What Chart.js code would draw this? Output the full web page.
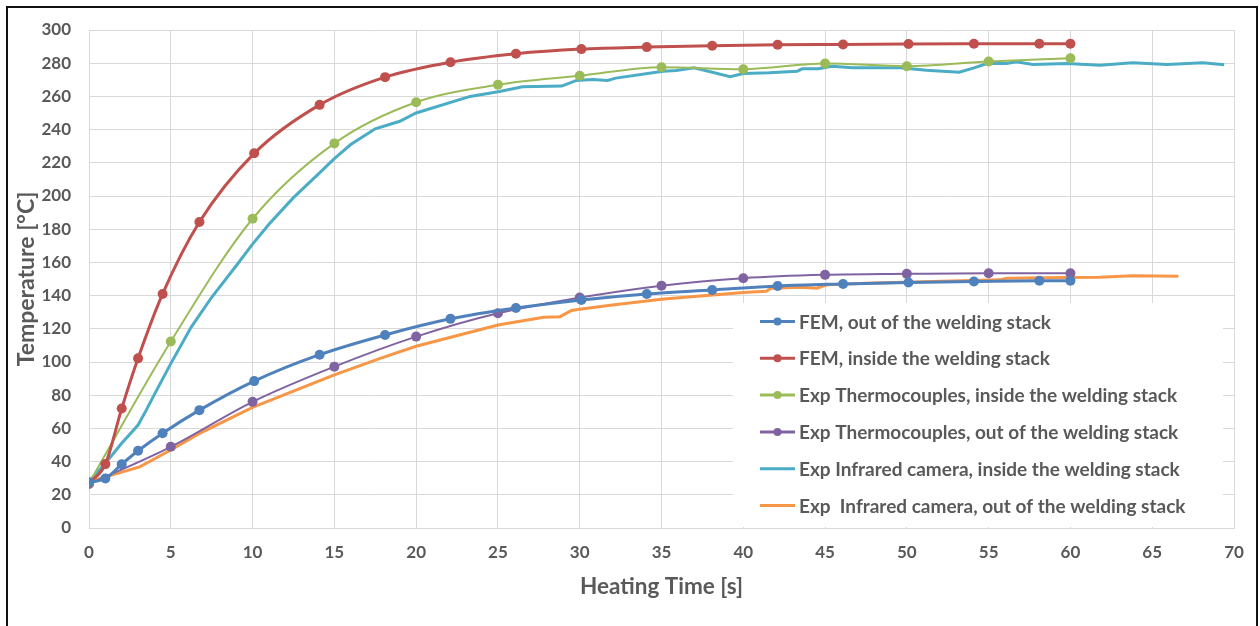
<!DOCTYPE html>
<html>
<head>
<meta charset="utf-8">
<script src="https://cdn.jsdelivr.net/npm/chart.js@4.4.1/dist/chart.umd.min.js"></script>
<style>
    html, body { margin: 0; padding: 0; background: #fff; }
    #wrap { position: relative; width: 1260px; height: 626px; overflow: hidden; }
    #frame { position: absolute; left: 6px; top: 6px; width: 1248px; height: 640px; border: 2px solid #111; border-bottom: none; pointer-events: none; }
</style>
</head>
<body>
<div id="wrap">
    <canvas id="myChart" width="1260" height="626"></canvas>
    <div id="frame"></div>
</div>
<script>
/* temperature during heating: FEM results against thermocouples and infrared camera */

// FEM time steps and results
const femTime = [0, 1, 2, 3, 4.5, 6.75, 10.1, 14.1, 18.1, 22.1, 26.1, 30.1, 34.1, 38.1, 42.1, 46.1, 50.1, 54.1, 58.1, 60];
const femOut = [27.5, 29.8, 38.4, 46.5, 57.1, 71, 88.5, 104.4, 116.3, 126, 132.5, 137.4, 141, 143.4, 145.8, 147, 147.9, 148.5, 148.9, 149];
const femIn = [27, 38.5, 72, 102.2, 141, 184.3, 225.7, 254.9, 271.6, 280.6, 285.7, 288.5, 289.7, 290.5, 291.1, 291.3, 291.6, 291.7, 291.7, 291.7];

// thermocouple readings
const tcTime = [0, 5, 10, 15, 20, 25, 30, 35, 40, 45, 50, 55, 60];
const tcIn = [27, 112.3, 186.3, 231.7, 256.5, 267, 272.4, 277.6, 276.4, 279.8, 278.2, 281, 283];
const tcOut = [26.5, 48.9, 76, 97.2, 115.3, 129.4, 138.8, 146, 150.5, 152.5, 153.1, 153.5, 153.4];

// infrared camera, inside
const irInTime = [0, 1, 2, 3, 3.5, 4, 5, 6.25, 7.5, 9, 10, 11, 12.5, 14, 15, 16, 17.5, 19, 20, 23.3, 25.1, 26.5, 28.9, 29.8, 30.8, 31.7, 32.2, 35.1, 35.9, 37, 39.2, 40, 41.6, 43.3, 43.6, 44.6, 45.4, 46.7, 49.6, 51.2, 53.2, 54.1, 54.9, 56.1, 56.7, 57.7, 59.8, 61.8, 63.8, 65.9, 68.1, 69.4];
const irIn = [28, 39, 51, 62, 71, 80.5, 99, 121, 139, 158, 171, 183, 199, 213, 222.5, 231, 240.5, 245, 250, 260, 263, 265.8, 266.2, 269.6, 270.2, 269.6, 271, 275.2, 275.6, 277.2, 271.8, 273.8, 274.2, 275.2, 276.6, 276.6, 278.2, 277.2, 277.2, 275.8, 274.6, 277.2, 279.8, 279.8, 280.8, 279.2, 279.8, 278.8, 280.2, 279.2, 280.2, 279];

// infrared camera, outside
const irOutTime = [0, 1, 3.1, 5, 6.76, 10, 15, 17.8, 20, 25, 27.8, 28.8, 29.5, 30, 32, 35, 35.7, 40, 41.4, 41.7, 43.5, 44.5, 45.1, 47.5, 51.6, 55.7, 56.1, 59.8, 61.8, 63.8, 66.6];
const irOut = [27.8, 30.8, 36.8, 47, 57, 72.7, 92.2, 102.2, 109.5, 122.3, 127, 127.3, 131, 131.8, 134.4, 137.8, 138.4, 141.8, 142.6, 144.5, 145, 144.5, 146.5, 147.5, 148.5, 149.5, 150.5, 150.9, 151.1, 151.9, 151.7];

const xTicks = [0, 70, 5];
const yTicks = [0, 300, 20];

function pts(xs, ys) {
    return xs.map(function(x, i) { return { x: x, y: ys[i] }; });
}

const textGrey = "#595959";
const fontName = "Lato, 'Open Sans', sans-serif";

// legend box drawn inside the plot, like the spreadsheet one
const boxLegend = {
    id: "boxLegend",
    afterDraw(chart) {
        const c = chart.ctx;
        c.save();
        c.fillStyle = "#fff";
        c.fillRect(733, 303, 490, 224);
        c.font = "bold 19px " + fontName;
        c.textBaseline = "middle";
        chart.data.datasets.forEach(function(ds, i) {
            const y = 321.5 + i * 36.8;
            c.strokeStyle = ds.borderColor;
            c.lineWidth = 3;
            c.beginPath();
            c.moveTo(760, y);
            c.lineTo(795, y);
            c.stroke();
            if (ds.pointRadius > 0) {
                c.fillStyle = ds.borderColor;
                c.beginPath();
                c.arc(777.5, y, 4, 0, 2 * Math.PI);
                c.fill();
            }
            c.fillStyle = textGrey;
            c.fillText(ds.label, 799, y + 1);
        });
        c.restore();
    }
};

function series(label, data, color, width, radius, smooth) {
    return {
        label: label,
        data: data,
        borderColor: color,
        backgroundColor: color,
        borderWidth: width,
        pointRadius: radius,
        pointBorderWidth: 0,
        pointBackgroundColor: color,
        cubicInterpolationMode: smooth ? "monotone" : "default",
        tension: 0,
        fill: false
    };
}

const ctx = document.getElementById("myChart").getContext("2d");
const chart = new Chart(ctx, {
    type: "line",
    data: {
        datasets: [
            series("FEM, out of the welding stack", pts(femTime, femOut), "#4F81BD", 3, 5, true),
            series("FEM, inside the welding stack", pts(femTime, femIn), "#C0504D", 3, 5, true),
            series("Exp Thermocouples, inside the welding stack", pts(tcTime, tcIn), "#9BBB59", 2, 5, true),
            series("Exp Thermocouples, out of the welding stack", pts(tcTime, tcOut), "#8064A2", 2, 5, true),
            series("Exp Infrared camera, inside the welding stack", pts(irInTime, irIn), "#4BACC6", 3, 0, false),
            series("Exp  Infrared camera, out of the welding stack", pts(irOutTime, irOut), "#F79646", 3, 0, false)
        ]
    },
    options: {
        responsive: false,
        animation: false,
        layout: { padding: { top: 30, right: 26, left: 0, bottom: 0 } },
        plugins: {
            legend: { display: false },
            tooltip: { enabled: false }
        },
        scales: {
            x: {
                type: "linear",
                min: xTicks[0],
                max: xTicks[1],
                afterFit: function(scale) { scale.height = 98; },
                ticks: { stepSize: xTicks[2], color: textGrey, padding: 14, font: { family: fontName, size: 17, weight: "bold" } },
                grid: { color: "#d9d9d9", drawTicks: false },
                border: { color: "#d9d9d9" },
                title: { display: true, text: "Heating Time [s]", color: textGrey, padding: { top: 0, bottom: 26 }, font: { family: fontName, size: 22.5, weight: "bold" } }
            },
            y: {
                min: yTicks[0],
                max: yTicks[1],
                afterFit: function(scale) { scale.width = 89; },
                ticks: { stepSize: yTicks[2], color: textGrey, padding: 18, font: { family: fontName, size: 17, weight: "bold" } },
                grid: { color: "#d9d9d9", drawTicks: false },
                border: { display: false },
                title: { display: true, text: "Temperature [°C]", color: textGrey, padding: { top: 13, bottom: 0 }, font: { family: fontName, size: 23, weight: "bold" } }
            }
        }
    },
    plugins: [boxLegend]
});
</script>
</body>
</html>
